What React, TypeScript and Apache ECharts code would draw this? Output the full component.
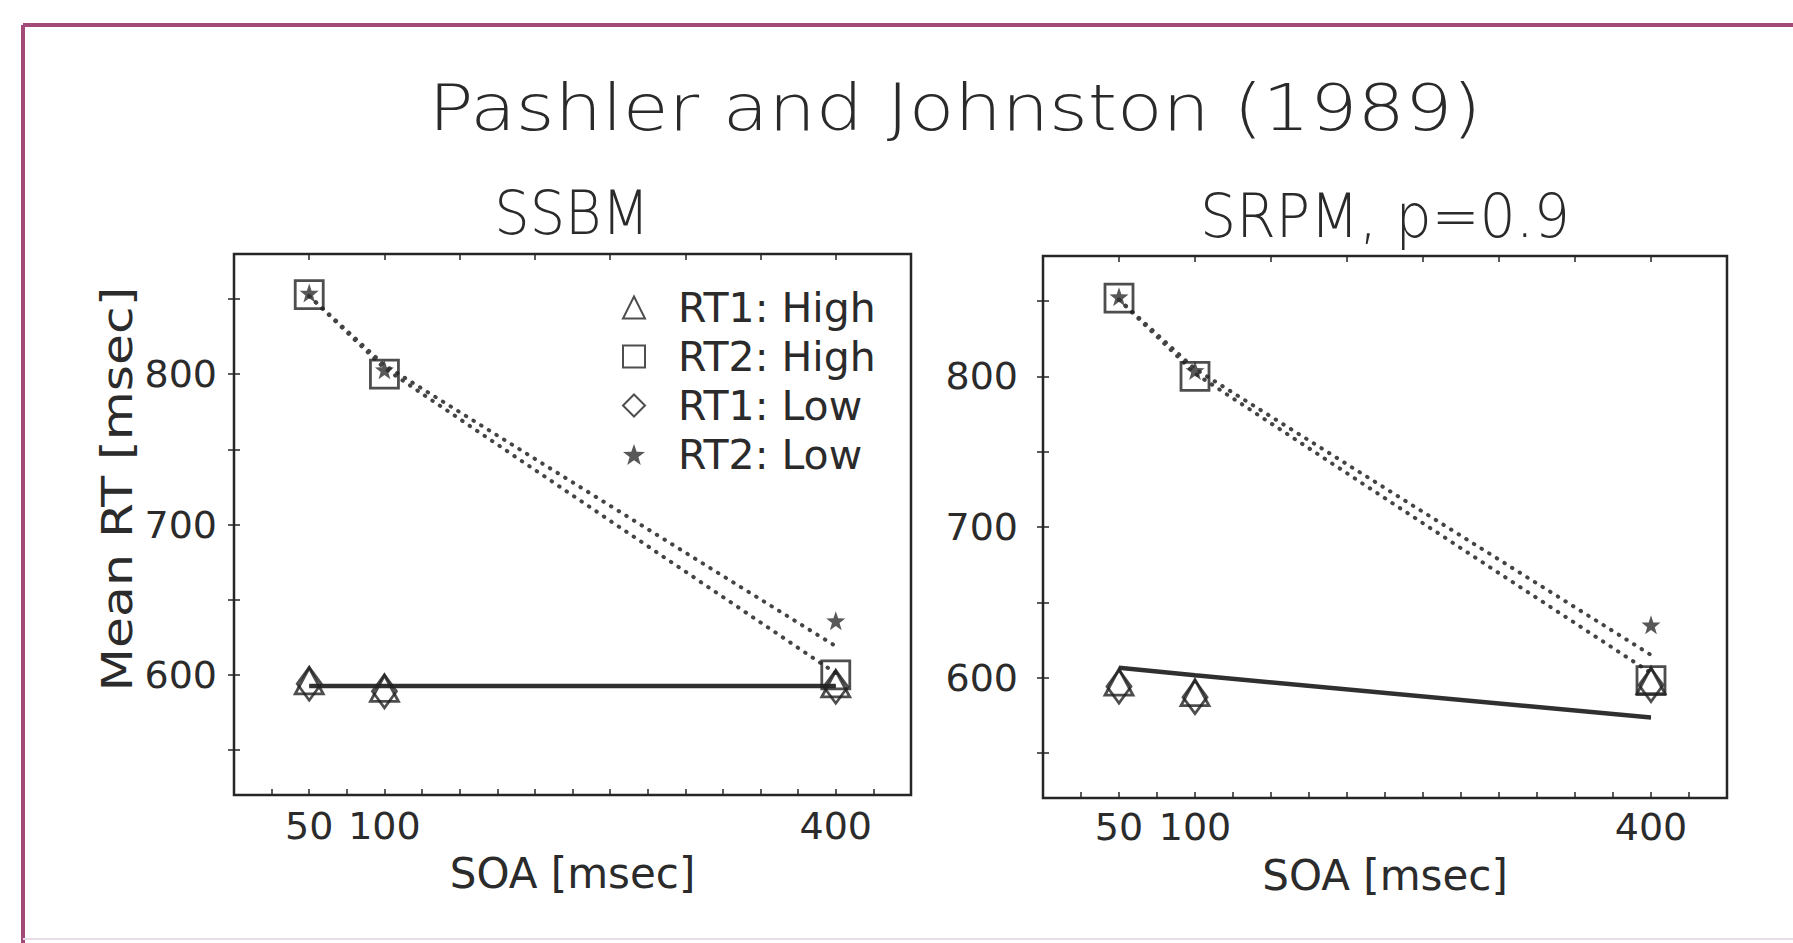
import React, { useEffect, useRef } from "react";
import * as echarts from "echarts";

// ---- Data ----
const soa = [50, 100, 400];

// SSBM panel – observed means
const ssbmRT1High = [596, 591, 594];
const ssbmRT2High = [853, 800, 600];
const ssbmRT1Low = [594, 589, 592];
const ssbmRT2Low = [854, 803, 636];
// SSBM panel – model predictions
const ssbmModelRT1High = [593, 593, 593];
const ssbmModelRT1Low = [592, 592, 592];
const ssbmModelRT2High = [852, 804, 601];
const ssbmModelRT2Low = [852, 806, 619];

// SRPM panel – observed means
const srpmRT1High = [597, 590, 598];
const srpmRT2High = [852, 800, 598];
const srpmRT1Low = [594, 587, 595];
const srpmRT2Low = [853, 804, 635];
// SRPM panel – model predictions
const srpmModelRT1High = [607, 602, 574];
const srpmModelRT1Low = [606, 601, 573];
const srpmModelRT2High = [851, 802, 603];
const srpmModelRT2Low = [851, 805, 615];

const seriesNames = ["RT1: High", "RT2: High", "RT1: Low", "RT2: Low"];
const xLabelValues = [50, 100, 400];
const xTickValues = [25, 50, 75, 100, 125, 150, 175, 200, 225, 250, 275, 300, 325, 350, 375, 400, 425];
const xTopTickValues = [50, 100, 150, 200, 250, 300, 350, 400];
const yLabelValues = [600, 700, 800];
const yTickValues = [550, 600, 650, 700, 750, 800, 850];

const mainTitle = "Pashler and Johnston (1989)";
const panelTitles = ["SSBM", "SRPM, p=0.9"];
const xAxisTitle = "SOA [msec]";
const yAxisTitle = "Mean RT [msec]";

// ---- Styles ----
const TEXT = "#2b2b2b";
const INK = "#262626";
const FONT = '"DejaVu Sans", Verdana, sans-serif';
const STAR =
  "path://M0,-10 L2.35,-3.24 L9.51,-3.09 L3.8,1.24 L5.88,8.09 L0,4 L-5.88,8.09 L-3.8,1.24 L-9.51,-3.09 L-2.35,-3.24 Z";

const pairs = (ys: number[]) => soa.map((x, i) => [x, ys[i]]);

const tickStyle = { color: INK, width: 1.5 };

function axesFor(gridIndex: number, xMargin: number, yMargin: number, nameGap: number) {
  const xs = [
    {
      type: "value",
      gridIndex,
      min: 0,
      max: 450,
      position: "bottom",
      axisLine: { show: false },
      splitLine: { show: false },
      axisTick: { show: true, inside: true, length: 6, customValues: xTickValues, lineStyle: tickStyle },
      axisLabel: {
        customValues: xLabelValues,
        margin: xMargin,
        fontSize: 38,
        lineHeight: 38,
        color: TEXT,
        fontFamily: FONT,
      },
      name: xAxisTitle,
      nameLocation: "middle",
      nameGap,
      nameTextStyle: { fontSize: 42, lineHeight: 42, color: TEXT, fontFamily: FONT },
    },
    {
      type: "value",
      gridIndex,
      min: 0,
      max: 450,
      position: "top",
      axisLine: { show: false },
      splitLine: { show: false },
      axisTick: { show: true, inside: true, length: 6, customValues: xTopTickValues, lineStyle: tickStyle },
      axisLabel: { show: false },
    },
  ];
  const ys = [
    {
      type: "value",
      gridIndex,
      min: 520,
      max: 880,
      position: "left",
      axisLine: { show: false },
      splitLine: { show: false },
      axisTick: { show: true, inside: true, length: 6, customValues: yTickValues, lineStyle: tickStyle },
      axisLabel: {
        customValues: yLabelValues,
        margin: yMargin,
        fontSize: 38,
        lineHeight: 38,
        color: TEXT,
        fontFamily: FONT,
      },
    },
    {
      type: "value",
      gridIndex,
      min: 520,
      max: 880,
      position: "right",
      axisLine: { show: false },
      splitLine: { show: false },
      axisTick: { show: true, inside: true, length: 6, customValues: yTickValues, lineStyle: tickStyle },
      axisLabel: { show: false },
    },
  ];
  return { xs, ys };
}

const hollow = { color: "rgba(255,255,255,0)", borderColor: "#222", borderWidth: 2.8 };

function seriesFor(gridIndex: number, obs: number[][], model: number[][]) {
  const xAxisIndex = gridIndex * 2;
  const yAxisIndex = gridIndex * 2;
  const solid = { color: "#303030", width: 3, type: "solid" };
  const dotted = { color: "#444", width: 4, type: [0.5, 8.5], cap: "round" };
  const lines = model.map((ys, i) => ({
    type: "line",
    name: "model" + gridIndex + "_" + i,
    xAxisIndex,
    yAxisIndex,
    data: pairs(ys),
    symbol: "none",
    silent: true,
    z: 2,
    lineStyle: i < 2 ? solid : dotted,
  }));
  const symbols = [
    { symbol: "triangle", symbolSize: [28, 26], itemStyle: hollow },
    { symbol: "rect", symbolSize: [28, 28], itemStyle: hollow },
    { symbol: "diamond", symbolSize: [24, 33], itemStyle: hollow },
    { symbol: STAR, symbolSize: [19, 19], itemStyle: { color: "#2e2e2e" } },
  ];
  const scatters = obs.map((ys, i) => ({
    type: "scatter",
    name: seriesNames[i],
    xAxisIndex,
    yAxisIndex,
    data: pairs(ys),
    z: 3,
    ...symbols[i],
  }));
  return [...lines, ...scatters];
}

export default function App() {
  const ref = useRef<HTMLDivElement>(null);

  useEffect(() => {
    if (!ref.current) return;
    const chart = echarts.init(ref.current, null, { renderer: "svg" });

    const a0 = axesFor(0, 12, 17, 57);
    const a1 = axesFor(1, 10, 25, 56);

    const titleText = (text: string, x: number, y: number, fontSize: number, scaleX: number) => ({
      type: "text",
      x,
      y,
      scaleX,
      style: {
        text,
        fontSize,
        fontWeight: 200,
        fontFamily: FONT,
        fill: "#2a2a2a",
        align: "center",
        verticalAlign: "middle",
      },
    });

    const option: any = {
      animation: false,
      backgroundColor: "#ffffff",
      textStyle: { fontFamily: FONT },
      legend: {
        orient: "vertical",
        left: 617,
        top: 282,
        data: seriesNames,
        itemWidth: 22,
        itemHeight: 22,
        itemGap: 8,
        selectedMode: false,
        textStyle: { fontSize: 41, lineHeight: 41, color: TEXT, fontFamily: FONT, padding: [0, 0, 0, 28] },
      },
      grid: [
        { left: 234, top: 254, width: 677, height: 541, show: true, borderColor: INK, borderWidth: 2.5, backgroundColor: "transparent" },
        { left: 1043, top: 256, width: 684, height: 542, show: true, borderColor: INK, borderWidth: 2.5, backgroundColor: "transparent" },
      ],
      xAxis: [...a0.xs, ...a1.xs],
      yAxis: [...a0.ys, ...a1.ys],
      series: [
        ...seriesFor(
          0,
          [ssbmRT1High, ssbmRT2High, ssbmRT1Low, ssbmRT2Low],
          [ssbmModelRT1High, ssbmModelRT1Low, ssbmModelRT2High, ssbmModelRT2Low]
        ),
        ...seriesFor(
          1,
          [srpmRT1High, srpmRT2High, srpmRT1Low, srpmRT2Low],
          [srpmModelRT1High, srpmModelRT1Low, srpmModelRT2High, srpmModelRT2Low]
        ),
      ],
      graphic: [
        titleText(mainTitle, 955, 108, 64, 1.165),
        titleText(panelTitles[0], 572, 213, 60, 0.93),
        titleText(panelTitles[1], 1385, 216, 60, 0.95),
        {
          type: "text",
          x: 118,
          y: 489,
          rotation: Math.PI / 2,
          scaleX: 1.2,
          style: {
            text: yAxisTitle,
            fontSize: 42,
            fontFamily: FONT,
            fill: TEXT,
            align: "center",
            verticalAlign: "middle",
          },
        },
        {
          type: "line",
          shape: { x1: 23, y1: 25, x2: 1793, y2: 25 },
          style: { stroke: "#a24a78", lineWidth: 4 },
        },
        {
          type: "line",
          shape: { x1: 23, y1: 25, x2: 23, y2: 943 },
          style: { stroke: "#a24a78", lineWidth: 4 },
        },
        {
          type: "line",
          shape: { x1: 23, y1: 939, x2: 1793, y2: 939 },
          style: { stroke: "#e6dde6", lineWidth: 2 },
        },
      ],
    };

    chart.setOption(option);
    return () => chart.dispose();
  }, []);

  return (
    <div
      ref={ref}
      style={{ position: "absolute", left: 0, top: 0, width: 1793, height: 943 }}
    />
  );
}
